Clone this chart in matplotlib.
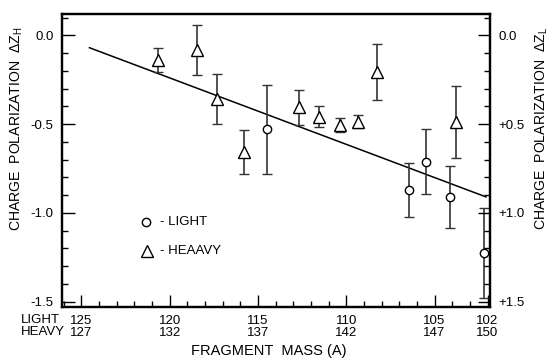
import matplotlib
matplotlib.use('Agg')
import matplotlib.pyplot as plt
from matplotlib.ticker import MultipleLocator

plt.rcParams['font.family'] = ['Liberation Sans', 'DejaVu Sans']
plt.rcParams['mathtext.fontset'] = 'custom'
plt.rcParams['mathtext.rm'] = 'Liberation Sans'

# light fragments (circles)
light_mass = [114.47, 106.46, 105.50, 104.14, 102.18]
light_dz = [-0.530, -0.873, -0.713, -0.909, -1.226]
light_err = [0.25, 0.153, 0.183, 0.175, 0.252]

# heavy fragments (triangles), plotted at complementary light mass
heavy_mass = [120.67, 118.46, 117.30, 115.80, 112.66, 111.52, 110.37, 109.33, 108.26, 103.79]
heavy_dz = [-0.138, -0.082, -0.358, -0.655, -0.405, -0.458, -0.505, -0.486, -0.206, -0.488]
heavy_err = [0.068, 0.14, 0.143, 0.124, 0.10, 0.06, 0.037, 0.035, 0.158, 0.204]

# straight line fit
fit_mass = [124.54, 102.09]
fit_dz = [-0.069, -0.910]

tick_light = [125, 120, 115, 110, 105, 102]
tick_heavy = [127, 132, 137, 142, 147, 150]
left_ticks = [0.0, -0.5, -1.0, -1.5]
right_labels = ['0.0', '+0.5', '+1.0', '+1.5']


def draw():
    fig = plt.figure(figsize=(5.59, 3.64), dpi=100)
    ax = fig.add_axes([0.1104, 0.1574, 0.7656, 0.8041])

    ax.plot(fit_mass, fit_dz, color='black', lw=1.1)
    ax.errorbar(light_mass, light_dz, yerr=light_err, fmt='o', ms=6,
                mfc='white', mec='black', mew=1.0, ecolor='#333333',
                elinewidth=1.2, capsize=3.5, capthick=1.2, clip_on=False,
                zorder=3)
    ax.errorbar(heavy_mass, heavy_dz, yerr=heavy_err, fmt='^', ms=9,
                mfc='white', mec='black', mew=1.0, ecolor='#333333',
                elinewidth=1.2, capsize=3.5, capthick=1.2, zorder=3)

    ax.set_xlim(126.11, 101.88)
    ax.set_ylim(-1.529, 0.121)

    # axes frame
    for sp in ax.spines.values():
        sp.set_linewidth(1.6)

    ax.set_xticks(tick_light)
    ax.set_xticklabels(['%d\n%d' % (a, b) for a, b in zip(tick_light, tick_heavy)],
                       fontsize=9.5, linespacing=1.05)
    ax.xaxis.set_minor_locator(MultipleLocator(1))
    ax.set_yticks(left_ticks)
    ax.set_yticklabels(['0.0', '-0.5', '-1.0', '-1.5'], fontsize=9.5)
    ax.yaxis.set_minor_locator(MultipleLocator(0.1))
    ax.tick_params(which='major', direction='in', length=9, width=1.0, pad=6)
    ax.tick_params(which='minor', direction='in', length=4.5, width=1.0)
    ax.tick_params(axis='y', which='both', left=True, right=False, pad=6)

    ax2 = ax.twinx()
    ax2.set_ylim(ax.get_ylim())
    ax2.set_yticks(left_ticks)
    ax2.set_yticklabels(right_labels, fontsize=9.5)
    ax2.yaxis.set_minor_locator(MultipleLocator(0.1))
    ax2.tick_params(which='major', direction='in', length=9, width=1.0, pad=6)
    ax2.tick_params(which='minor', direction='in', length=4.5, width=1.0)
    for sp in ax2.spines.values():
        sp.set_linewidth(1.6)

    # axis titles
    ax.set_ylabel('CHARGE  POLARIZATION  $\\Delta$Z$_\\mathrm{H}$', fontsize=10.1)
    ax.yaxis.set_label_coords(-0.086, 0.607)
    ax2.set_ylabel('CHARGE  POLARIZATION  $\\Delta$Z$_\\mathrm{L}$', fontsize=10.1,
                   rotation=90)
    ax2.yaxis.set_label_coords(1.102, 0.61)
    fig.text(269 / 559, 1 - 351 / 364, 'FRAGMENT  MASS (A)', fontsize=10.5,
             ha='center', va='center')
    fig.text(21 / 559, 1 - 326 / 364, 'LIGHT\nHEAVY', fontsize=9.5,
             ha='left', va='center', linespacing=1.05)

    # legend drawn by hand
    ax.plot([0.197], [0.288], 'o', ms=6, mfc='white', mec='black', mew=1.0,
            transform=ax.transAxes)
    ax.text(0.229, 0.288, '- LIGHT', fontsize=9.5, va='center',
            transform=ax.transAxes)
    ax.plot([0.199], [0.190], '^', ms=9, mfc='white', mec='black', mew=1.0,
            transform=ax.transAxes)
    ax.text(0.229, 0.190, '- HEAAVY', fontsize=9.5, va='center',
            transform=ax.transAxes)

    fig.savefig('out.png', dpi=100)


draw()
